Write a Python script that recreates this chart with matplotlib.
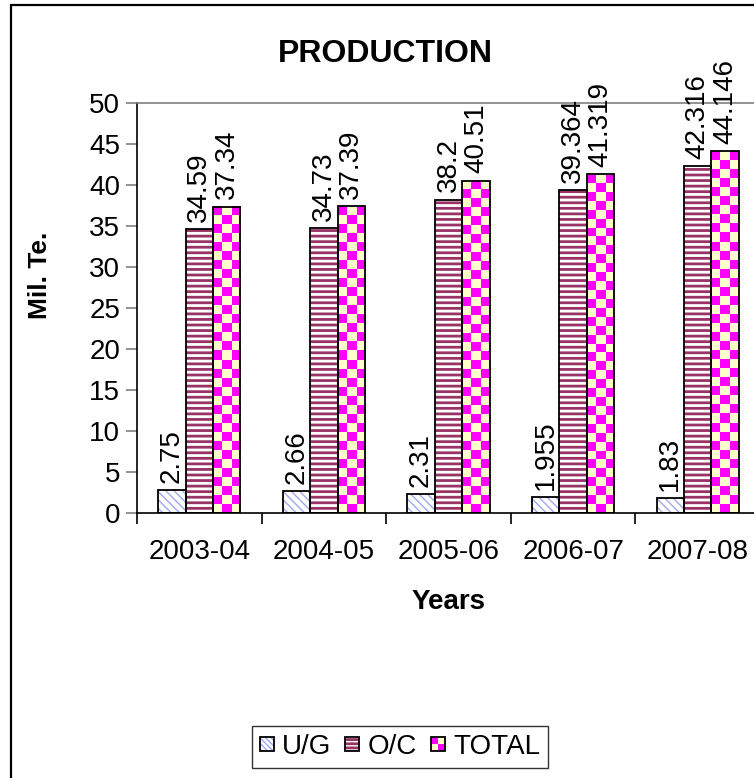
import matplotlib
matplotlib.use("Agg")
import matplotlib.pyplot as plt
import numpy as np
from matplotlib.patches import Rectangle
from matplotlib.colors import ListedColormap
from matplotlib.legend_handler import HandlerBase

plt.rcParams['font.family'] = ['Liberation Sans', 'DejaVu Sans']

years = ['2003-04', '2004-05', '2005-06', '2006-07', '2007-08']
ug = [2.75, 2.66, 2.31, 1.955, 1.83]
oc = [34.59, 34.73, 38.2, 39.364, 42.316]
total = [37.34, 37.39, 40.51, 41.319, 44.146]
series_names = ['U/G', 'O/C', 'TOTAL']
yticks = [0, 5, 10, 15, 20, 25, 30, 35, 40, 45, 50]

W, H = 754, 778
fig = plt.figure(figsize=(W / 100, H / 100), dpi=100)
ax = fig.add_axes([137 / W, (H - 513) / H, 623 / W, 410 / H])

x = np.arange(len(years))
w = 0.22
UG_HATCH = '#A0A8F0'
OC_COL = '#993366'
MAG = '#FF00FF'
YEL = '#FFFFCC'

with plt.rc_context({'hatch.linewidth': 1.0}):
    b1 = ax.bar(x - w, ug, w, color='white', edgecolor=UG_HATCH, hatch='\\\\\\\\', linewidth=0, zorder=2)
ax.bar(x - w, ug, w, fill=False, edgecolor='black', linewidth=1.3, zorder=3)

with plt.rc_context({'hatch.linewidth': 2.0}):
    b2 = ax.bar(x, oc, w, color='white', edgecolor=OC_COL, hatch='---', linewidth=0, zorder=2)
for p in b2:
    if hasattr(p, 'set_hatch_linewidth'):
        p.set_hatch_linewidth(2.0)
for p in b1:
    if hasattr(p, 'set_hatch_linewidth'):
        p.set_hatch_linewidth(1.0)
ax.bar(x, oc, w, fill=False, edgecolor='black', linewidth=1.3, zorder=3)

ax.bar(x + w, total, w, color=YEL, linewidth=0, zorder=2)
cmap = ListedColormap([YEL, MAG])
px_per_unit = 410 / 50
for xi, h in zip(x + w, total):
    rows = max(1, int(round(h * px_per_unit / 9.0)))
    arr = np.add.outer(np.arange(rows), np.arange(3)) % 2
    ax.imshow(arr, cmap=cmap, extent=(xi - w / 2, xi + w / 2, 0, h), origin='lower',
              aspect='auto', interpolation='nearest', zorder=2.5, vmin=0, vmax=1)
ax.bar(x + w, total, w, fill=False, edgecolor='black', linewidth=1.3, zorder=3)

for off, vals in zip([-w, 0, w], [ug, oc, total]):
    for xi, v in zip(x + off, vals):
        ax.text(xi, v + 0.9, str(v), rotation=90, ha='center', va='bottom', fontsize=20)

ax.set_xlim(-0.5, len(years) - 0.5)
ax.set_ylim(0, 50)
ax.set_yticks(yticks)
ax.set_yticklabels([str(t) for t in yticks])
ax.tick_params(axis='y', direction='out', length=8, width=1.2, color='#808080',
               labelsize=20, labelcolor='black', pad=4)
ax.set_xticks(np.arange(-0.5, len(years), 1.0))
ax.set_xticklabels([])
ax.set_xticks(x, minor=True)
ax.set_xticklabels(years, minor=True)
ax.tick_params(axis='x', which='major', direction='out', length=8, width=1.2, color='black')
ax.tick_params(axis='x', which='minor', length=0, labelsize=20, pad=19)

ax.spines['left'].set_color('black')
ax.spines['left'].set_linewidth(1.2)
ax.spines['bottom'].set_color('black')
ax.spines['bottom'].set_linewidth(1.2)
ax.spines['top'].set_color('#808080')
ax.spines['top'].set_linewidth(1.2)
ax.spines['right'].set_color('#808080')

ax.set_xlabel('Years', fontsize=20, fontweight='bold')
ax.xaxis.set_label_coords(0.5, -0.185)
ax.set_ylabel('Mil. Te.', fontsize=19, fontweight='bold')
ax.yaxis.label.set_va('center')
ax.yaxis.set_label_coords((40 - 137) / 623, (513 - 275) / 410)

fig.text(385 / W, 1 - 54 / H, 'PRODUCTION', ha='center', va='center', fontsize=23, fontweight='bold')

fig.add_artist(Rectangle((10.5 / W, -0.1), 1.5, 1 - 5 / H + 0.1, transform=fig.transFigure,
                         fill=False, edgecolor='black', linewidth=1.6))


class SwatchHandler(HandlerBase):
    def __init__(self, kind, face='white', hatchcolor=None, hatch=None, hlw=1.0):
        super().__init__()
        self.kind = kind
        self.face = face
        self.hatchcolor = hatchcolor
        self.hatch = hatch
        self.hlw = hlw

    def create_artists(self, legend, orig_handle, xdescent, ydescent, width, height, fontsize, trans):
        s = min(width, height)
        x0 = -xdescent + (width - s) / 2
        y0 = -ydescent + (height - s) / 2
        arts = []
        if self.kind == 'checker':
            half = s / 2
            cols = [[YEL, MAG], [MAG, YEL]]
            for i in range(2):
                for j in range(2):
                    arts.append(Rectangle((x0 + j * half, y0 + i * half), half, half,
                                          facecolor=cols[i][j], linewidth=0))
        else:
            with plt.rc_context({'hatch.linewidth': self.hlw}):
                r = Rectangle((x0, y0), s, s, facecolor=self.face,
                              edgecolor=self.hatchcolor, hatch=self.hatch, linewidth=0)
            if hasattr(r, 'set_hatch_linewidth'):
                r.set_hatch_linewidth(self.hlw)
            arts.append(r)
        arts.append(Rectangle((x0, y0), s, s, fill=False, edgecolor='black', linewidth=1.3))
        for a in arts:
            a.set_transform(trans)
        return arts


h1, h2, h3 = Rectangle((0, 0), 1, 1), Rectangle((0, 0), 1, 1), Rectangle((0, 0), 1, 1)
hmap = {h1: SwatchHandler('hatch', 'white', UG_HATCH, '\\\\\\\\\\\\', 1.0),
        h2: SwatchHandler('hatch', 'white', OC_COL, '----', 2.0),
        h3: SwatchHandler('checker')}
leg = fig.legend([h1, h2, h3], series_names, handler_map=hmap, loc='center',
                 bbox_to_anchor=(400 / W, 1 - 747 / H), ncol=3, fontsize=20,
                 frameon=True, fancybox=False, edgecolor='#333333', framealpha=1,
                 handlelength=0.5, handleheight=0.5, handletextpad=0.3,
                 columnspacing=0.5, borderpad=0.3, borderaxespad=0)
leg.get_frame().set_linewidth(1.0)

fig.savefig('out.png', dpi=100)
